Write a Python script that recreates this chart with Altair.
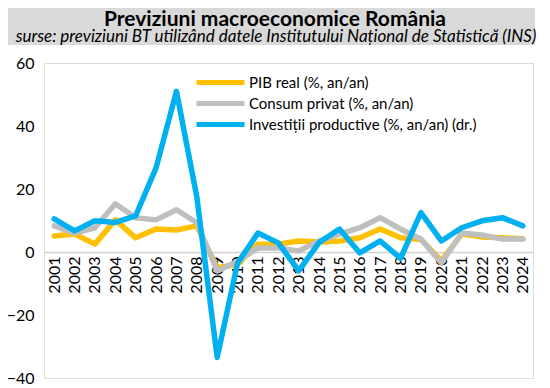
import altair as alt
import pandas as pd

years = [str(y) for y in range(2001, 2025)]
pib = [5.1, 5.7, 2.5, 10.2, 4.5, 7.3, 7.0, 8.3, -5.0, -3.9, 2.5, 2.5, 3.5, 3.2, 3.5,
       4.5, 7.3, 4.5, 4.0, -2.8, 5.7, 4.8, 4.5, 4.2]
consum = [8.3, 6.0, 7.7, 15.3, 10.9, 10.2, 13.4, 9.3, -6.0, -3.0, 1.3, 1.3, 0.3, 3.5,
          5.7, 7.7, 10.9, 7.3, 4.1, -3.5, 6.0, 5.4, 4.1, 4.1]
invest = [10.5, 6.7, 9.9, 9.4, 11.5, 26.7, 51.0, 17.5, -33.5, -3.5, 6.0, 2.9, -6.0,
          3.0, 7.3, -0.3, 3.5, -2.0, 12.5, 3.5, 7.7, 9.9, 10.9, 8.3]

series_names = ["PIB real (%, an/an)", "Consum privat (%, an/an)",
                "Investiții productive (%, an/an) (dr.)"]
series_colors = ["#FFC000", "#BFBFBF", "#00B0F0"]
y_ticks = [-40, -20, 0, 20, 40, 60]

title_text = "Previziuni macroeconomice România"
subtitle_text = "surse: previziuni BT utilizând datele Institutului Național de Statistică (INS)"

rows = []
for name, vals in zip(series_names, [pib, consum, invest]):
    for yr, v in zip(years, vals):
        rows.append({"An": yr, "Serie": name, "Valoare": v})
df = pd.DataFrame(rows)

W, H = 489, 315
FONT = "Lato"

lines = alt.Chart(df).mark_line(strokeWidth=5.5, strokeJoin="round", strokeCap="round").encode(
    x=alt.X("An:N", sort=years,
            scale=alt.Scale(type="point", padding=0.5),
            axis=alt.Axis(title=None, labelAngle=270, labelFontSize=16, labelColor="#000000",
                          labelFont=FONT, ticks=False, domain=True, domainColor="#D0D0D0",
                          domainWidth=1.5, labelPadding=4, offset=-126, grid=False)),
    y=alt.Y("Valoare:Q",
            scale=alt.Scale(domain=[-40, 60], nice=False, zero=False),
            axis=alt.Axis(title=None, values=y_ticks, labelFontSize=16, labelColor="#000000",
                          labelFont=FONT, ticks=False, domain=False, grid=False, labelPadding=10)),
    color=alt.Color("Serie:N",
                    scale=alt.Scale(domain=series_names, range=series_colors),
                    legend=alt.Legend(title=None, orient="none", legendX=168, legendY=11,
                                      symbolType="M-4,0H4", symbolSize=144,
                                      symbolStrokeWidth=5, labelFontSize=15, labelFont=FONT,
                                      labelColor="#000000", labelOffset=20, rowPadding=0,
                                      labelLimit=0)),
    order=alt.Order("ord:Q"),
).transform_calculate(
    ord="indexof(['" + "','".join(series_names) + "'], datum.Serie)"
)

one = pd.DataFrame({"k": [0]})
band = alt.Chart(one).mark_rect(color="#D9D9D9").encode(
    x=alt.value(-38), x2=alt.value(491), y=alt.value(-59), y2=alt.value(-18))
title = alt.Chart(one).mark_text(text=title_text, font=FONT, fontSize=21, fontWeight="bold",
                                 align="center", baseline="alphabetic", color="#000000").encode(
    x=alt.value(231), y=alt.value(-37))
subtitle = alt.Chart(one).mark_text(text=subtitle_text, font=FONT, fontSize=17, fontStyle="italic",
                                    align="center", baseline="alphabetic", color="#000000").encode(
    x=alt.value(232), y=alt.value(-21))

chart = alt.layer(band, title, subtitle, lines).properties(
    width=W, height=H,
    autosize=alt.AutoSizeParams(type="none"),
    padding={"left": 36, "top": 55, "right": 9, "bottom": 10},
).configure_view(stroke="#C8C8C8", strokeWidth=1.5).configure(background="#FFFFFF")

chart.save("out.html", embed_options={"renderer": "svg", "actions": False})
